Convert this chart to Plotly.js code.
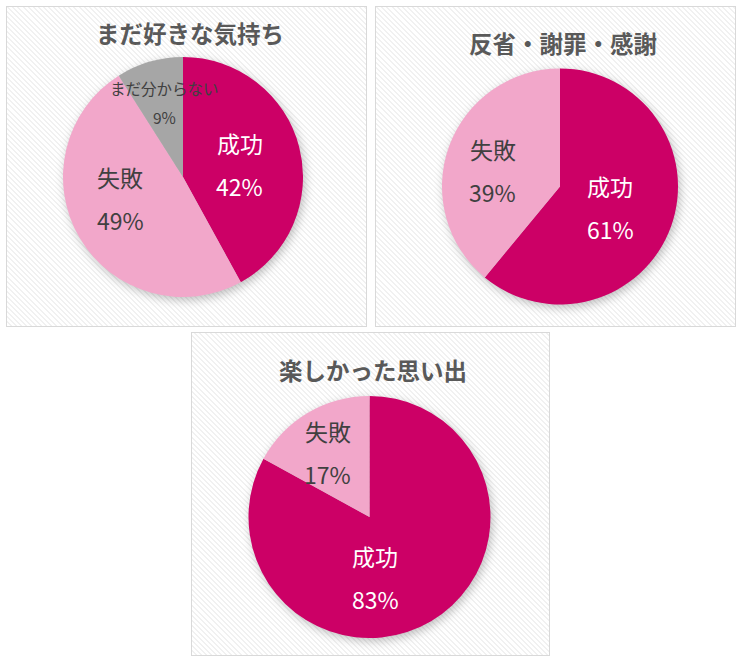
<!DOCTYPE html>
<html>
<head>
<meta charset="utf-8">
<script src="https://cdn.plot.ly/plotly-3.0.1.min.js"></script>
<style>
  html, body { margin: 0; padding: 0; background: #ffffff; }
  #wrap { position: relative; width: 740px; height: 662px; overflow: hidden; }
  .panel {
    position: absolute; box-sizing: border-box;
    border: 1px solid #d9d9d9;
    background: repeating-linear-gradient(45deg, #ffffff 0px, #ffffff 2.2px, #f1f1f1 2.2px, #f1f1f1 3.6px);
  }
  #chart { position: absolute; left: 0; top: 0; width: 740px; height: 662px; }
  #chart .pielayer .trace { filter: drop-shadow(2px 3px 5px rgba(0,0,0,0.25)); }
</style>
</head>
<body>
<div id="wrap"><div id="chart"></div></div>
<script>
// ---- data ----
const titles = ['まだ好きな気持ち', '反省・謝罪・感謝', '楽しかった思い出'];
const chart1Labels = ['成功', '失敗', 'まだ分からない'];
const chart1Values = [42, 49, 9];
const chart2Labels = ['成功', '失敗'];
const chart2Values = [61, 39];
const chart3Labels = ['成功', '失敗'];
const chart3Values = [83, 17];

// ---- styles / layout ----
const W = 740, H = 662;
const sliceColors = { '成功': '#CC0066', '失敗': '#F2A7CA', 'まだ分からない': '#A6A6A6' };
const labelColors = { '成功': '#ffffff', '失敗': '#404040', 'まだ分からない': '#404040' };
const labelSizes  = { '成功': 23, '失敗': 23, 'まだ分からない': 15.5 };
const labelGaps   = { '成功': 43, '失敗': 43, 'まだ分からない': 29 };
const FONT = '"Noto Sans CJK JP", "Noto Sans", sans-serif';

// label placement: radial fraction and angular nudge (degrees) per slice
const panels = [
  { box: [6, 6, 366, 326],   pie: [63, 57, 303, 297],      title: [190, 33],
    fracs: [0.485, 0.55, 0.64], nudges: [2.5, 12, 2.6] },
  { box: [375, 6, 735, 326], pie: [442, 68.5, 678, 304.5], title: [563, 43],
    fracs: [0.46, 0.585], nudges: [2.5, -6] },
  { box: [191, 332, 549, 655], pie: [248.5, 396, 490.5, 638], title: [373, 370],
    fracs: [0.506, 0.637], nudges: [25.4, -2] }
];
const series = [
  { labels: chart1Labels, values: chart1Values },
  { labels: chart2Labels, values: chart2Values },
  { labels: chart3Labels, values: chart3Values }
];

// panel backgrounds (hatched frames)
const wrap = document.getElementById('wrap');
panels.forEach(p => {
  const d = document.createElement('div');
  d.className = 'panel';
  d.style.left = p.box[0] + 'px';
  d.style.top = p.box[1] + 'px';
  d.style.width = (p.box[2] - p.box[0] + 1) + 'px';
  d.style.height = (p.box[3] - p.box[1] + 1) + 'px';
  wrap.insertBefore(d, wrap.firstChild);
});

const px = x => x / W;
const py = y => 1 - y / H;

const traces = [];
const annotations = [];
series.forEach((s, k) => {
  const p = panels[k];
  traces.push({
    type: 'pie',
    labels: s.labels,
    values: s.values,
    sort: false,
    direction: 'clockwise',
    rotation: 0,
    textinfo: 'none',
    hoverinfo: 'label+percent',
    showlegend: false,
    marker: { colors: s.labels.map(l => sliceColors[l]), line: { width: 0 } },
    domain: { x: [px(p.pie[0]), px(p.pie[2])], y: [py(p.pie[3]), py(p.pie[1])] }
  });
  // title
  annotations.push({
    text: '<b>' + titles[k] + '</b>', xref: 'paper', yref: 'paper',
    x: px(p.title[0]), y: py(p.title[1]), xanchor: 'center', yanchor: 'middle',
    showarrow: false, font: { family: FONT, size: 23.5, color: '#595959' }
  });
  // slice labels, placed along each slice's mid angle
  const total = s.values.reduce((a, b) => a + b, 0);
  const cx = (p.pie[0] + p.pie[2]) / 2, cy = (p.pie[1] + p.pie[3]) / 2;
  const r = Math.min(p.pie[2] - p.pie[0], p.pie[3] - p.pie[1]) / 2;
  let cum = 0;
  s.values.forEach((v, i) => {
    const mid = (cum + v / 2) / total * 2 * Math.PI + p.nudges[i] * Math.PI / 180;
    cum += v;
    const f = p.fracs[i];
    const lx = cx + f * r * Math.sin(mid);
    const ly = cy - f * r * Math.cos(mid);
    const lab = s.labels[i];
    const g = labelGaps[lab] / 2;
    const font = { family: FONT, size: labelSizes[lab], color: labelColors[lab] };
    annotations.push({ text: lab, xref: 'paper', yref: 'paper', x: px(lx), y: py(ly - g),
      xanchor: 'center', yanchor: 'middle', showarrow: false, font: font });
    annotations.push({ text: Math.round(v / total * 100) + '%', xref: 'paper', yref: 'paper',
      x: px(lx), y: py(ly + g), xanchor: 'center', yanchor: 'middle', showarrow: false, font: font });
  });
});

const layout = {
  width: W, height: H,
  margin: { l: 0, r: 0, t: 0, b: 0 },
  paper_bgcolor: 'rgba(0,0,0,0)',
  plot_bgcolor: 'rgba(0,0,0,0)',
  showlegend: false,
  annotations: annotations
};
Plotly.newPlot('chart', traces, layout, { displayModeBar: false, staticPlot: true });
</script>
</body>
</html>
